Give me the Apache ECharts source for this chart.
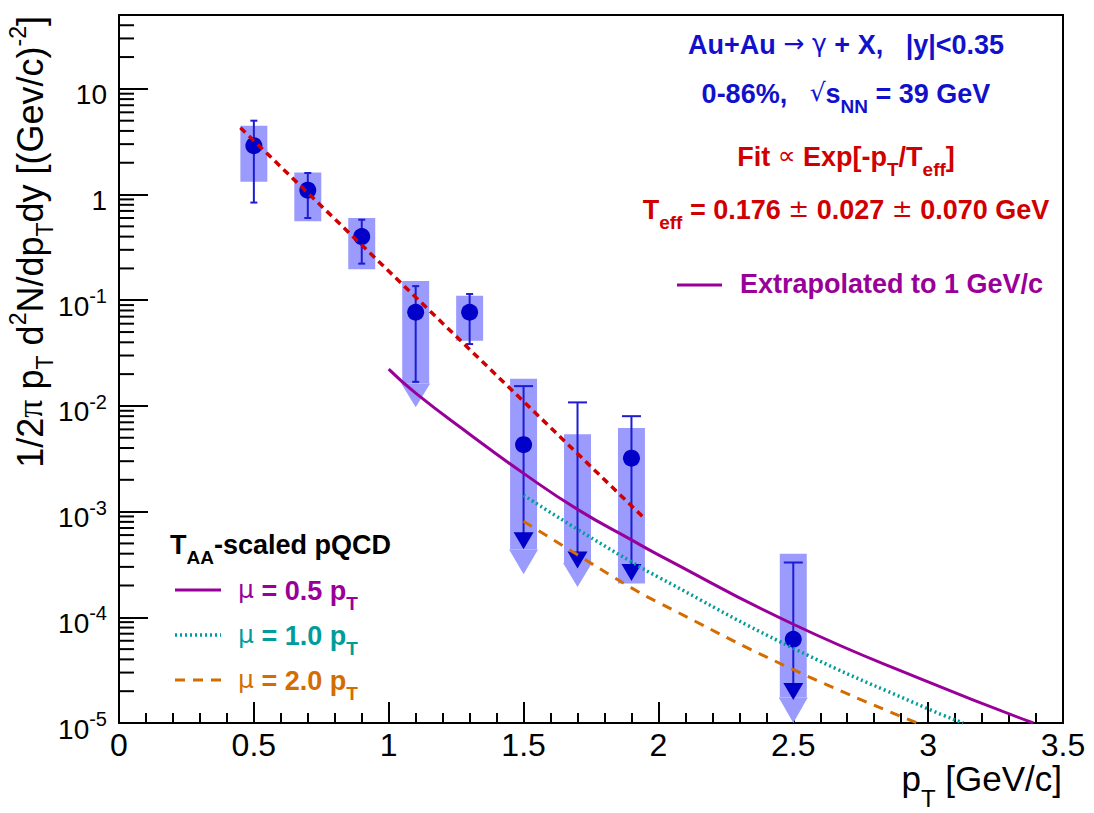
<!DOCTYPE html>
<html>
<head>
<meta charset="utf-8">
<script src="https://cdn.jsdelivr.net/npm/echarts@6/dist/echarts.min.js"></script>
<style>
html, body { margin: 0; padding: 0; background: #fff; }
#chart { width: 1094px; height: 813px; }
</style>
</head>
<body>
<div id="chart"></div>
<script>
// direct photons, Au+Au 39 GeV, 0-86%
const ptPoints = [0.5, 0.7, 0.9, 1.1, 1.3, 1.5, 1.7, 1.9, 2.5]
const yieldValues = [2.9, 1.1, 0.40, 0.077, 0.077, 0.0043, null, 0.0032, 6.2e-5]
const statLow = [0.84, 0.60, 0.222, 0.0169, 0.0385, 4.4e-4, 2.9e-4, 2.2e-4, 1.65e-5]
const statHigh = [5.0, 1.60, 0.578, 0.136, 0.1145, 0.0154, 0.0108, 0.0080, 3.3e-4]
const upperLimit = [0, 0, 0, 0, 0, 1, 1, 1, 1]
const sysLow = [1.32, 0.558, 0.196, 0.0163, 0.0414, 4.37e-4, 3.27e-4, 2.09e-4, 1.74e-5]
const sysHigh = [4.49, 1.62, 0.60, 0.152, 0.110, 0.0181, 0.0054, 0.0062, 4.0e-4]
const sysArrowTip = [0, 0, 0, 0.0097, 0, 2.55e-4, 1.94e-4, 0, 1.0e-5]

// exponential fit, T_eff = 0.176 GeV
const fitPt = [0.45, 1.95]
const fitValues = [4.29, 8.55e-4]

// TAA-scaled pQCD
const pqcd05Pt = [1.0, 1.1, 1.3, 1.5, 1.7, 1.9, 2.0, 2.5, 3.0, 3.39]
const pqcd05Values = [0.0223, 0.0132, 0.0054, 0.0023, 0.00105, 5.4e-4, 3.9e-4, 8.6e-5, 2.45e-5, 1.0e-5]
const pqcd10Pt = [1.5, 1.7, 1.9, 2.0, 2.5, 3.0, 3.13]
const pqcd10Values = [1.43e-3, 6.8e-4, 3.35e-4, 2.4e-4, 5.1e-5, 1.36e-5, 1.0e-5]
const pqcd20Pt = [1.5, 1.7, 1.9, 2.0, 2.5, 2.96]
const pqcd20Values = [8.1e-4, 3.9e-4, 1.9e-4, 1.38e-4, 3.2e-5, 1.0e-5]

// axis
const yDecades = [1e-5, 1e-4, 1e-3, 1e-2, 1e-1, 1, 10]
const yMinorMantissa = [2, 3, 4, 5, 6, 7, 8, 9]

const FONT = 'Liberation Sans'
const SYM = 'DejaVu Sans'
const BLUE = '#1111cc'
const RED = '#d00000'
const PURPLE = '#990099'
const TEAL = '#009c9c'
const ORANGE = '#d46c00'

const zip = (xs, ys) => xs.map((x, i) => [x, ys[i]])

const yMinorTicks = []
yDecades.forEach(d => {
    yMinorMantissa.forEach(m => {
        if (d * m < 50) yMinorTicks.push([0, d * m])
    })
})

const sysData = ptPoints.map((x, i) => [x, sysLow[i], sysHigh[i], sysArrowTip[i]])
const statData = ptPoints.map((x, i) => [x, statLow[i], statHigh[i], upperLimit[i]])
const pointData = ptPoints.map((x, i) => [x, yieldValues[i]]).filter(p => p[1] !== null)

function renderSys(params, api) {
    const x = api.value(0)
    const tl = api.coord([x - 0.05, api.value(2)])
    const br = api.coord([x + 0.05, api.value(1)])
    const style = { fill: '#9b9bfd' }
    const children = [{
        type: 'rect',
        shape: { x: tl[0], y: tl[1], width: br[0] - tl[0], height: br[1] - tl[1] },
        style
    }]
    const tipV = api.value(3)
    if (tipV > 0) {
        const tip = api.coord([x, tipV])
        children.push({
            type: 'polygon',
            shape: { points: [[tl[0] - 1, br[1]], [br[0] + 1, br[1]], [tip[0], tip[1]]] },
            style
        })
    }
    return { type: 'group', children }
}

function renderStat(params, api) {
    const x = api.value(0)
    const top = api.coord([x, api.value(2)])
    const bot = api.coord([x, api.value(1)])
    const limit = api.value(3) === 1
    const cap = limit ? 9.5 : 3.5
    const style = { stroke: '#1c1cd2', lineWidth: 2 }
    const children = [
        { type: 'line', shape: { x1: top[0], y1: top[1], x2: top[0], y2: limit ? bot[1] - 16 : bot[1] }, style },
        { type: 'line', shape: { x1: top[0] - cap, y1: top[1], x2: top[0] + cap, y2: top[1] }, style }
    ]
    if (limit) {
        children.push({
            type: 'polygon',
            shape: { points: [[bot[0] - 10, bot[1] - 17], [bot[0] + 10, bot[1] - 17], [bot[0], bot[1]]] },
            style: { fill: '#0000c8' }
        })
    } else {
        children.push({ type: 'line', shape: { x1: bot[0] - cap, y1: bot[1], x2: bot[0] + cap, y2: bot[1] }, style })
    }
    return { type: 'group', children }
}

function renderMinorTick(params, api) {
    const p = api.coord([api.value(0), api.value(1)])
    return {
        type: 'line',
        shape: { x1: p[0], y1: p[1], x2: p[0] + 15, y2: p[1] },
        style: { stroke: '#000', lineWidth: 2 }
    }
}

// rich text pieces shared by the annotations
const annRich = {
    b: { fontFamily: FONT, fontSize: 27, fontWeight: 'bold', lineHeight: 29, verticalAlign: 'top' },
    s: { fontFamily: SYM, fontSize: 25, fontWeight: 'normal', lineHeight: 29, verticalAlign: 'top' },
    sub: { fontFamily: FONT, fontSize: 19, fontWeight: 'bold', lineHeight: 19, padding: [17, 0, 0, 0], verticalAlign: 'top' }
}

function label(text, x, y, color, align) {
    return {
        type: 'text',
        x, y,
        z: 100,
        style: { text, fill: color, align: align || 'center', verticalAlign: 'top', rich: annRich, font: 'bold 27px ' + FONT }
    }
}

const chart = echarts.init(document.getElementById('chart'), null, { renderer: 'svg' })

const option = {
    animation: false,
    backgroundColor: '#fff',
    grid: {
        left: 119, right: 31, top: 15, bottom: 90,
        show: true, borderColor: '#000', borderWidth: 2
    },
    xAxis: {
        type: 'value',
        min: 0, max: 3.5, interval: 0.5,
        axisLine: { lineStyle: { color: '#000', width: 2 } },
        axisTick: { inside: true, length: 21, lineStyle: { color: '#000', width: 2 } },
        minorTick: { show: true, splitNumber: 5, length: 10, lineStyle: { color: '#000', width: 2 } },
        splitLine: { show: false },
        axisLabel: { color: '#000', fontFamily: FONT, fontSize: 32, margin: 6 }
    },
    yAxis: {
        type: 'log',
        logBase: 10,
        min: 1e-5, max: 50,
        axisLine: { lineStyle: { color: '#000', width: 2 } },
        axisTick: { inside: true, length: 29, lineStyle: { color: '#000', width: 2 } },
        minorTick: { show: false },
        splitLine: { show: false },
        axisLabel: {
            color: '#000',
            margin: 12,
            formatter: v => {
                const l = Math.log10(v)
                const e = Math.round(l)
                if (Math.abs(l - e) > 1e-6) return ''
                if (e === 0) return '{b|1}'
                if (e === 1) return '{b|10}'
                return '{b|10}{e|' + e + '}'
            },
            rich: {
                b: { fontFamily: FONT, fontSize: 28, lineHeight: 28, padding: [6, 0, 0, 0], verticalAlign: 'top', color: '#000' },
                e: { fontFamily: FONT, fontSize: 20, lineHeight: 20, verticalAlign: 'top', color: '#000' }
            }
        }
    },
    series: [
        {
            type: 'custom', name: 'minor ticks', z: 1, silent: true,
            renderItem: renderMinorTick, data: yMinorTicks
        },
        {
            type: 'custom', name: 'sys', z: 2, silent: true, clip: true,
            renderItem: renderSys, data: sysData
        },
        {
            type: 'custom', name: 'stat', z: 3, silent: true,
            renderItem: renderStat, data: statData
        },
        {
            type: 'scatter', name: 'data', z: 4,
            symbol: 'circle', symbolSize: 17,
            itemStyle: { color: '#0000c8', opacity: 1 },
            data: pointData
        },
        {
            type: 'line', name: 'fit', z: 5, showSymbol: false,
            lineStyle: { color: RED, width: 3.5, type: [7, 5] },
            data: zip(fitPt, fitValues)
        },
        {
            type: 'line', name: 'mu=0.5', z: 5, showSymbol: false, smooth: 0.5,
            lineStyle: { color: PURPLE, width: 3 },
            data: zip(pqcd05Pt, pqcd05Values)
        },
        {
            type: 'line', name: 'mu=1.0', z: 5, showSymbol: false, smooth: 0.5,
            lineStyle: { color: TEAL, width: 3.5, type: [2, 3] },
            data: zip(pqcd10Pt, pqcd10Values)
        },
        {
            type: 'line', name: 'mu=2.0', z: 5, showSymbol: false, smooth: 0.5,
            lineStyle: { color: ORANGE, width: 3, type: [10, 8] },
            data: zip(pqcd20Pt, pqcd20Values)
        }
    ],
    graphic: [
        label('{b|Au+Au }{s|\u2192 \u03b3}{b| + X,   |y|<0.35}', 846, 31, BLUE),
        label('{b|0-86%,   }{s|\u221a}{b|s}{sub|NN}{b| = 39 GeV}', 846, 80, BLUE),
        label('{b|Fit }{s|\u221d}{b| Exp[-p}{sub|T}{b|/T}{sub|eff}{b|]}', 846, 143, RED),
        label('{b|T}{sub|eff}{b| = 0.176 }{s|\u00b1}{b| 0.027 }{s|\u00b1}{b| 0.070 GeV}', 846, 196, RED),
        label('{b|Extrapolated to 1 GeV/c}', 740, 270, PURPLE, 'left'),
        { type: 'line', z: 100, shape: { x1: 677, y1: 285, x2: 722, y2: 285 }, style: { stroke: PURPLE, lineWidth: 3 } },

        label('{b|T}{sub|AA}{b|-scaled pQCD}', 170, 531, '#000', 'left'),
        label('{s|\u03bc}{b| = 0.5 p}{sub|T}', 238, 577, PURPLE, 'left'),
        label('{s|\u03bc}{b| = 1.0 p}{sub|T}', 238, 622, TEAL, 'left'),
        label('{s|\u03bc}{b| = 2.0 p}{sub|T}', 238, 667, ORANGE, 'left'),
        { type: 'line', z: 100, shape: { x1: 175, y1: 590, x2: 221, y2: 590 }, style: { stroke: PURPLE, lineWidth: 3 } },
        { type: 'line', z: 100, shape: { x1: 175, y1: 635, x2: 221, y2: 635 }, style: { stroke: TEAL, lineWidth: 3.5, lineDash: [2, 3] } },
        { type: 'line', z: 100, shape: { x1: 175, y1: 680, x2: 221, y2: 680 }, style: { stroke: ORANGE, lineWidth: 3, lineDash: [10, 8] } },

        // axis titles
        {
            type: 'text', x: 1062, y: 761, z: 100,
            style: {
                text: '{t|p}{ts|T}{t| [GeV/c]}',
                align: 'right', verticalAlign: 'top', fill: '#000',
                rich: {
                    t: { fontFamily: FONT, fontSize: 35, lineHeight: 35, verticalAlign: 'top' },
                    ts: { fontFamily: FONT, fontSize: 24, lineHeight: 24, padding: [25, 0, 0, 0], verticalAlign: 'top' }
                }
            }
        },
        {
            type: 'text', x: 6, y: 16, z: 100, rotation: Math.PI / 2,
            style: {
                text: '{t|1/2}{g|\u03c0}{t| p}{ts|T}{t| d}{tp|2}{t|N/dp}{ts|T}{t|dy [(Gev/c)}{tp|-2}{t|]}',
                align: 'right', verticalAlign: 'top', fill: '#000',
                rich: {
                    t: { fontFamily: FONT, fontSize: 36, lineHeight: 36, padding: [6, 0, 0, 0], verticalAlign: 'top' },
                    g: { fontFamily: 'Liberation Serif', fontSize: 36, lineHeight: 36, padding: [6, 0, 0, 0], verticalAlign: 'top' },
                    ts: { fontFamily: FONT, fontSize: 23, lineHeight: 23, padding: [27, 0, 0, 0], verticalAlign: 'top' },
                    tp: { fontFamily: FONT, fontSize: 23, lineHeight: 23, verticalAlign: 'top' }
                }
            }
        }
    ]
}

chart.setOption(option)
</script>
</body>
</html>
